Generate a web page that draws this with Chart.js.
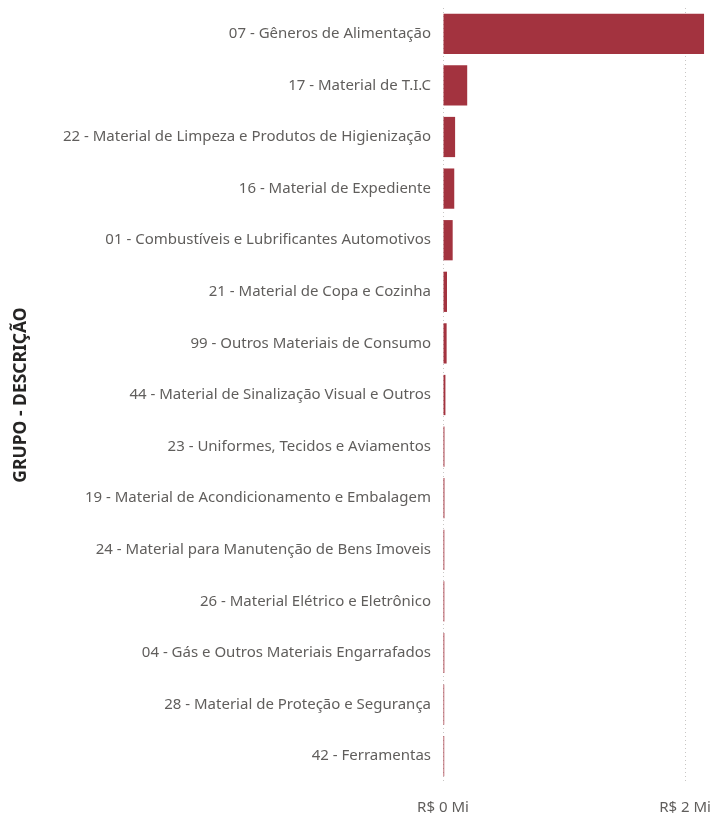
<!DOCTYPE html>
<html>
<head>
<meta charset="utf-8">
<script src="https://cdn.jsdelivr.net/npm/chart.js@4/dist/chart.umd.min.js"></script>
<style>
    html, body { margin: 0; padding: 0; background: #fff; }
    #wrap { width: 713px; height: 819px; }
</style>
</head>
<body>
<div id="wrap"><canvas id="chart"></canvas></div>
<script>

    // grupos, ordenados pelo valor (R$ milhões)
    const categories = [
        "07 - Gêneros de Alimentação",
        "17 - Material de T.I.C",
        "22 - Material de Limpeza e Produtos de Higienização",
        "16 - Material de Expediente",
        "01 - Combustíveis e Lubrificantes Automotivos",
        "21 - Material de Copa e Cozinha",
        "99 - Outros Materiais de Consumo",
        "44 - Material de Sinalização Visual e Outros",
        "23 - Uniformes, Tecidos e Aviamentos",
        "19 - Material de Acondicionamento e Embalagem",
        "24 - Material para Manutenção de Bens Imoveis",
        "26 - Material Elétrico e Eletrônico",
        "04 - Gás e Outros Materiais Engarrafados",
        "28 - Material de Proteção e Segurança",
        "42 - Ferramentas"
    ];
    const values = [2.157, 0.20, 0.10, 0.093, 0.08, 0.033, 0.03, 0.02, 0.012, 0.012, 0.011, 0.011, 0.011, 0.010, 0.010];
    const tickValues = [0, 2];

    const labelFont = "'Noto Sans', 'Open Sans', sans-serif";

    new Chart(document.getElementById("chart"), {
        type: "bar",
        data: {
            labels: categories,
            datasets: [{
                data: values,
                backgroundColor: "#A3333F",
                barPercentage: 0.78,
                categoryPercentage: 1
            }]
        },
        options: {
            indexAxis: "y",
            responsive: true,
            maintainAspectRatio: false,
            animation: false,
            layout: { padding: { top: 8, right: 0, bottom: 0, left: 0 } },
            plugins: { legend: { display: false }, tooltip: { enabled: false } },
            scales: {
                x: {
                    min: 0,
                    max: 2.231,
                    afterBuildTicks: (scale) => { scale.ticks = tickValues.map(v => ({ value: v })); },
                    afterFit: (scale) => {
                        scale.height = 37;
                        scale.paddingLeft = 0;
                        scale.paddingRight = 0;
                    },
                    grid: {
                        color: "#C8C6C4",
                        lineWidth: 1,
                        drawTicks: false
                    },
                    border: { display: false, dash: [1, 3] },
                    ticks: {
                        color: "#605E5C",
                        font: { family: labelFont, size: 15 },
                        padding: 17,
                        maxRotation: 0,
                        callback: (v) => "R$ " + v + " Mi"
                    }
                },
                y: {
                    afterFit: (scale) => {
                        scale.width = 443;
                        scale.paddingTop = 0;
                        scale.paddingBottom = 0;
                    },
                    grid: { display: false, drawTicks: false },
                    border: { display: false },
                    ticks: {
                        color: "#605E5C",
                        font: { family: labelFont, size: 15 },
                        padding: 12,
                        autoSkip: false
                    },
                    title: {
                        display: true,
                        text: "GRUPO - DESCRIÇÃO",
                        color: "#252423",
                        font: { family: labelFont, size: 17.5, weight: "bold" },
                        padding: { top: 11, bottom: 0 }
                    }
                }
            }
        }
    });

</script>
</body>
</html>
